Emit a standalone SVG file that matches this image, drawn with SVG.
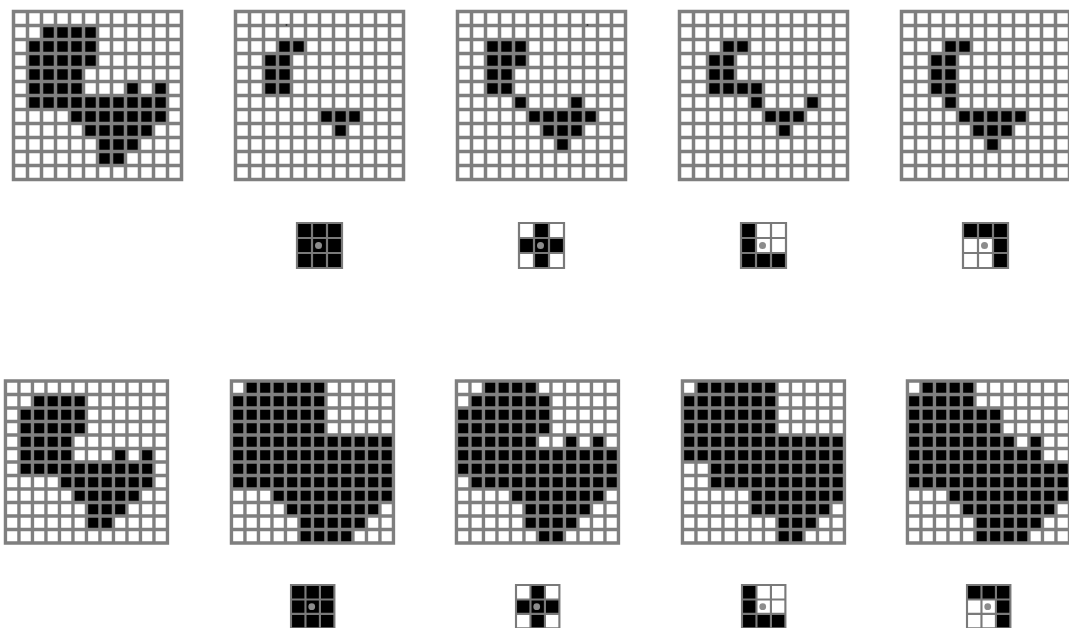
<svg xmlns="http://www.w3.org/2000/svg" xmlns:xlink="http://www.w3.org/1999/xlink" width="1069" height="628" viewBox="0 0 1069 628">
<style>
.bg{fill:#fff}
.g{fill:none;stroke:#7f7f7f;stroke-width:3.5;stroke-linecap:square}
.k{fill:none;stroke:#7a7a7a;stroke-width:2.2;stroke-linecap:square}
.b{fill:#000}
.dot{fill:#8c8c8c}
.art{fill:#333}
</style>
<defs>
<path id="lines" d="M0 0H168M0 14H168M0 28H168M0 42H168M0 56H168M0 70H168M0 84H168M0 98H168M0 112H168M0 126H168M0 140H168M0 154H168M0 168H168M0 0V168M14 0V168M28 0V168M42 0V168M56 0V168M70 0V168M84 0V168M98 0V168M112 0V168M126 0V168M140 0V168M154 0V168M168 0V168"/>
<path id="klines" d="M0 0H45M0 15H45M0 30H45M0 45H45M0 0V45M15 0V45M30 0V45M45 0V45"/>
<g id="orig">
<rect class="bg" x="0" y="0" width="168" height="168"/>
<rect class="b" x="28" y="14" width="56" height="14"/>
<rect class="b" x="14" y="28" width="70" height="28"/>
<rect class="b" x="14" y="56" width="56" height="28"/>
<rect class="b" x="112" y="70" width="14" height="14"/>
<rect class="b" x="140" y="70" width="14" height="14"/>
<rect class="b" x="14" y="84" width="140" height="14"/>
<rect class="b" x="56" y="98" width="98" height="14"/>
<rect class="b" x="70" y="112" width="70" height="14"/>
<rect class="b" x="84" y="126" width="42" height="14"/>
<rect class="b" x="84" y="140" width="28" height="14"/>
<use class="g" href="#lines"/>
</g>
</defs>

<g id="top-original" transform="translate(13.5,11.5)">
<use href="#orig"/>
</g>

<g id="top-erosion-square" transform="translate(235.5,11.5)">
<rect class="bg" x="0" y="0" width="168" height="168"/>
<rect class="b" x="42" y="28" width="28" height="14"/>
<rect class="b" x="28" y="42" width="28" height="42"/>
<rect class="b" x="84" y="98" width="42" height="14"/>
<rect class="b" x="98" y="112" width="14" height="14"/>
<use class="g" href="#lines"/>
<circle class="art" cx="51" cy="13.5" r="1"/>
</g>

<g id="top-erosion-cross" transform="translate(457.5,11.5)">
<rect class="bg" x="0" y="0" width="168" height="168"/>
<rect class="b" x="28" y="28" width="42" height="28"/>
<rect class="b" x="28" y="56" width="28" height="28"/>
<rect class="b" x="56" y="84" width="14" height="14"/>
<rect class="b" x="112" y="84" width="14" height="14"/>
<rect class="b" x="70" y="98" width="70" height="14"/>
<rect class="b" x="84" y="112" width="42" height="14"/>
<rect class="b" x="98" y="126" width="14" height="14"/>
<use class="g" href="#lines"/>
<circle class="art" cx="130" cy="13.5" r="1"/>
</g>

<g id="top-erosion-l" transform="translate(679.5,11.5)">
<rect class="bg" x="0" y="0" width="168" height="168"/>
<rect class="b" x="42" y="28" width="28" height="14"/>
<rect class="b" x="28" y="42" width="28" height="28"/>
<rect class="b" x="28" y="70" width="56" height="14"/>
<rect class="b" x="70" y="84" width="14" height="14"/>
<rect class="b" x="126" y="84" width="14" height="14"/>
<rect class="b" x="84" y="98" width="42" height="14"/>
<rect class="b" x="98" y="112" width="14" height="14"/>
<use class="g" href="#lines"/>
</g>

<g id="top-erosion-corner" transform="translate(901.5,11.5)">
<rect class="bg" x="0" y="0" width="168" height="168"/>
<rect class="b" x="42" y="28" width="28" height="14"/>
<rect class="b" x="28" y="42" width="28" height="42"/>
<rect class="b" x="42" y="84" width="14" height="14"/>
<rect class="b" x="56" y="98" width="70" height="14"/>
<rect class="b" x="70" y="112" width="42" height="14"/>
<rect class="b" x="84" y="126" width="14" height="14"/>
<use class="g" href="#lines"/>
</g>

<g id="top-kernel-square" transform="translate(297,223)">
<rect class="b" x="0" y="0" width="45" height="45"/>
<use class="k" href="#klines"/>
<circle class="dot" cx="21.5" cy="22.5" r="3.5"/>
</g>
<g id="top-kernel-cross" transform="translate(519,223)">
<rect class="bg" x="0" y="0" width="45" height="45"/>
<rect class="b" x="15" y="0" width="15" height="45"/>
<rect class="b" x="0" y="15" width="45" height="15"/>
<use class="k" href="#klines"/>
<circle class="dot" cx="21.5" cy="22.5" r="3.5"/>
</g>
<g id="top-kernel-l" transform="translate(741,223)">
<rect class="bg" x="0" y="0" width="45" height="45"/>
<rect class="b" x="0" y="0" width="15" height="45"/>
<rect class="b" x="0" y="30" width="45" height="15"/>
<use class="k" href="#klines"/>
<circle class="dot" cx="21.5" cy="22.5" r="3.5"/>
</g>
<g id="top-kernel-corner" transform="translate(963,223)">
<rect class="bg" x="0" y="0" width="45" height="45"/>
<rect class="b" x="0" y="0" width="45" height="15"/>
<rect class="b" x="30" y="0" width="15" height="45"/>
<use class="k" href="#klines"/>
<circle class="dot" cx="21.5" cy="22.5" r="3.5"/>
</g>

<g id="bottom-original" transform="translate(5.45,381) scale(0.9643)">
<use href="#orig"/>
</g>

<g id="bottom-dilation-square" transform="translate(231.45,381) scale(0.9643)">
<rect class="bg" x="0" y="0" width="168" height="168"/>
<rect class="b" x="14" y="0" width="84" height="14"/>
<rect class="b" x="0" y="14" width="98" height="42"/>
<rect class="b" x="0" y="56" width="168" height="56"/>
<rect class="b" x="42" y="112" width="126" height="14"/>
<rect class="b" x="56" y="126" width="98" height="14"/>
<rect class="b" x="70" y="140" width="70" height="14"/>
<rect class="b" x="70" y="154" width="56" height="14"/>
<use class="g" href="#lines"/>
</g>

<g id="bottom-dilation-cross" transform="translate(456.45,381) scale(0.9643)">
<rect class="bg" x="0" y="0" width="168" height="168"/>
<rect class="b" x="28" y="0" width="56" height="14"/>
<rect class="b" x="14" y="14" width="84" height="14"/>
<rect class="b" x="0" y="28" width="98" height="28"/>
<rect class="b" x="0" y="56" width="84" height="14"/>
<rect class="b" x="112" y="56" width="14" height="14"/>
<rect class="b" x="140" y="56" width="14" height="14"/>
<rect class="b" x="0" y="70" width="168" height="28"/>
<rect class="b" x="14" y="98" width="154" height="14"/>
<rect class="b" x="56" y="112" width="98" height="14"/>
<rect class="b" x="70" y="126" width="70" height="14"/>
<rect class="b" x="70" y="140" width="56" height="14"/>
<rect class="b" x="84" y="154" width="28" height="14"/>
<use class="g" href="#lines"/>
</g>

<g id="bottom-dilation-l" transform="translate(682.45,381) scale(0.9643)">
<rect class="bg" x="0" y="0" width="168" height="168"/>
<rect class="b" x="14" y="0" width="84" height="14"/>
<rect class="b" x="0" y="14" width="98" height="42"/>
<rect class="b" x="0" y="56" width="168" height="28"/>
<rect class="b" x="28" y="84" width="140" height="28"/>
<rect class="b" x="70" y="112" width="98" height="14"/>
<rect class="b" x="70" y="126" width="84" height="14"/>
<rect class="b" x="98" y="140" width="42" height="14"/>
<rect class="b" x="98" y="154" width="28" height="14"/>
<use class="g" href="#lines"/>
</g>

<g id="bottom-dilation-corner" transform="translate(907.45,381) scale(0.9643)">
<rect class="bg" x="0" y="0" width="168" height="168"/>
<rect class="b" x="14" y="0" width="56" height="14"/>
<rect class="b" x="0" y="14" width="70" height="14"/>
<rect class="b" x="0" y="28" width="98" height="28"/>
<rect class="b" x="0" y="56" width="112" height="14"/>
<rect class="b" x="126" y="56" width="14" height="14"/>
<rect class="b" x="0" y="70" width="140" height="14"/>
<rect class="b" x="0" y="84" width="168" height="28"/>
<rect class="b" x="42" y="112" width="126" height="14"/>
<rect class="b" x="56" y="126" width="98" height="14"/>
<rect class="b" x="70" y="140" width="70" height="14"/>
<rect class="b" x="70" y="154" width="56" height="14"/>
<use class="g" href="#lines"/>
</g>

<g id="bottom-kernel-square" transform="translate(291,585) scale(0.9643)">
<rect class="b" x="0" y="0" width="45" height="45"/>
<use class="k" href="#klines"/>
<circle class="dot" cx="21.5" cy="22.5" r="3.5"/>
</g>
<g id="bottom-kernel-cross" transform="translate(516,585) scale(0.9643)">
<rect class="bg" x="0" y="0" width="45" height="45"/>
<rect class="b" x="15" y="0" width="15" height="45"/>
<rect class="b" x="0" y="15" width="45" height="15"/>
<use class="k" href="#klines"/>
<circle class="dot" cx="21.5" cy="22.5" r="3.5"/>
</g>
<g id="bottom-kernel-l" transform="translate(742,585) scale(0.9643)">
<rect class="bg" x="0" y="0" width="45" height="45"/>
<rect class="b" x="0" y="0" width="15" height="45"/>
<rect class="b" x="0" y="30" width="45" height="15"/>
<use class="k" href="#klines"/>
<circle class="dot" cx="21.5" cy="22.5" r="3.5"/>
</g>
<g id="bottom-kernel-corner" transform="translate(967,585) scale(0.9643)">
<rect class="bg" x="0" y="0" width="45" height="45"/>
<rect class="b" x="0" y="0" width="45" height="15"/>
<rect class="b" x="30" y="0" width="15" height="45"/>
<use class="k" href="#klines"/>
<circle class="dot" cx="21.5" cy="22.5" r="3.5"/>
</g>

<g id="connectors"></g>
</svg>
